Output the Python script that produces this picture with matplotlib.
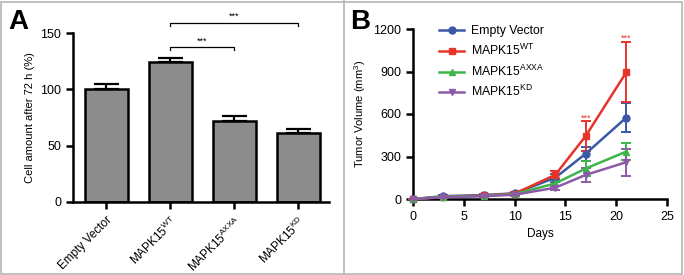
import matplotlib
matplotlib.use("Agg")
import matplotlib.pyplot as plt
from matplotlib.lines import Line2D
from matplotlib.patches import Rectangle

plt.rcParams['font.family'] = ['Liberation Sans', 'DejaVu Sans']
plt.rcParams['mathtext.fontset'] = 'custom'
plt.rcParams['mathtext.rm'] = 'Liberation Sans'
plt.rcParams['mathtext.it'] = 'Liberation Sans'

# ---- Panel A data ----
bar_labels = ['Empty Vector', 'MAPK15$^{\\mathrm{WT}}$', 'MAPK15$^{\\mathrm{AXXA}}$', 'MAPK15$^{\\mathrm{KD}}$']
bar_values = [100, 124, 72, 61]
bar_errors = [5, 4, 4, 4]
a_yticks = [0, 50, 100, 150]

# ---- Panel B data ----
days = [0, 3, 7, 10, 14, 17, 21]
series_names = ['Empty Vector', 'MAPK15$^{\\mathrm{WT}}$', 'MAPK15$^{\\mathrm{AXXA}}$', 'MAPK15$^{\\mathrm{KD}}$']
ev_vals = [0, 20, 28, 40, 150, 320, 575]
ev_err = [0, 5, 5, 8, 30, 50, 100]
wt_vals = [0, 15, 25, 38, 170, 445, 895]
wt_err = [0, 5, 5, 8, 30, 105, 210]
axxa_vals = [0, 15, 22, 35, 110, 215, 335]
axxa_err = [0, 4, 4, 6, 20, 50, 60]
kd_vals = [0, 12, 20, 30, 80, 170, 260]
kd_err = [0, 4, 4, 6, 15, 50, 95]
b_xticks = [0, 5, 10, 15, 20, 25]
b_yticks = [0, 300, 600, 900, 1200]

colors = ['#3a58a6', '#e8332a', '#3db54a', '#8c5aa6']
markers = ['o', 's', '^', 'v']

W, H = 684, 275
fig = plt.figure(figsize=(W / 100, H / 100), dpi=100)

# borders
fig.add_artist(Rectangle((1 / W, 1 / H), (W - 3) / W, (H - 3) / H, transform=fig.transFigure,
                         fill=False, edgecolor='#b5b5b5', linewidth=1.2))
fig.add_artist(Line2D([344 / W, 344 / W], [1 / H, 1 - 1 / H], transform=fig.transFigure,
                      color='#b5b5b5', linewidth=1.2))

def px_axes(x0, y0, x1, y1):
    return fig.add_axes([x0 / W, 1 - y1 / H, (x1 - x0) / W, (y1 - y0) / H])

# ---- Panel A ----
axA = px_axes(73, 33, 329, 202)
xs = list(range(len(bar_values)))
axA.bar(xs, bar_values, width=0.67, color='#8c8c8c', edgecolor='black', linewidth=1.8, zorder=2)
axA.errorbar(xs, bar_values, yerr=[[0] * len(bar_errors), bar_errors], fmt='none',
             ecolor='black', elinewidth=1.6, capsize=9, capthick=1.6, zorder=1)
axA.set_xlim(-0.52, 3.48)
axA.set_ylim(0, 150)
axA.set_yticks(a_yticks)
axA.set_xticks(xs)
axA.set_xticklabels(bar_labels, rotation=45, ha='right', rotation_mode='anchor', fontsize=8.5)
axA.tick_params(axis='y', labelsize=9, width=1.8, length=5)
axA.tick_params(axis='x', width=1.8, length=5)
axA.set_ylabel('Cell amount after 72 h (%)', fontsize=8)
for s in ['top', 'right']:
    axA.spines[s].set_visible(False)
for s in ['left', 'bottom']:
    axA.spines[s].set_linewidth(1.8)

def bracket(ax, x1, x2, y, h, text):
    ax.plot([x1, x1, x2, x2], [y - h, y, y, y - h], color='black', lw=0.9, clip_on=False)
    ax.text((x1 + x2) / 2, y + 1.5, text, ha='center', va='bottom', fontsize=6.5)

bracket(axA, 1, 2, 137.5, 3, '***')
bracket(axA, 1, 3, 159, 3, '***')

fig.text(8 / W, 1 - 29 / H, 'A', fontsize=20, fontweight='bold', ha='left', va='baseline')

# ---- Panel B ----
axB = px_axes(413, 29, 667, 199)
all_vals = [ev_vals, wt_vals, axxa_vals, kd_vals]
all_err = [ev_err, wt_err, axxa_err, kd_err]
handles = []
for name, vals, err, c, m in zip(series_names, all_vals, all_err, colors, markers):
    axB.errorbar(days, vals, yerr=err, color=c, marker=m, markersize=5, lw=1.8,
                 elinewidth=1.4, capsize=3.5, capthick=1.4, clip_on=False, zorder=3)
    handles.append(Line2D([], [], color=c, marker=m, markersize=5, lw=1.8, label=name))
axB.set_xlim(0, 25)
axB.set_ylim(0, 1200)
axB.set_xticks(b_xticks)
axB.set_yticks(b_yticks)
axB.tick_params(labelsize=9, width=1.8, length=5)
axB.set_xlabel('Days', fontsize=8.5)
axB.set_ylabel('Tumor Volume (mm$^{3}$)', fontsize=8)
for s in ['top', 'right']:
    axB.spines[s].set_visible(False)
for s in ['left', 'bottom']:
    axB.spines[s].set_linewidth(1.8)
axB.text(17, 540, '***', color=colors[1], ha='center', va='bottom', fontsize=6.5)
axB.text(21, 1100, '***', color=colors[1], ha='center', va='bottom', fontsize=6.5)
axB.legend(handles=handles, loc='upper left', bbox_to_anchor=(0.085, 1.05), frameon=False,
           fontsize=8.8, handlelength=2.0, handletextpad=0.6, labelspacing=0.45, borderaxespad=0)

fig.text(350 / W, 1 - 29 / H, 'B', fontsize=20, fontweight='bold', ha='left', va='baseline')

fig.savefig('out.png', dpi=100)
